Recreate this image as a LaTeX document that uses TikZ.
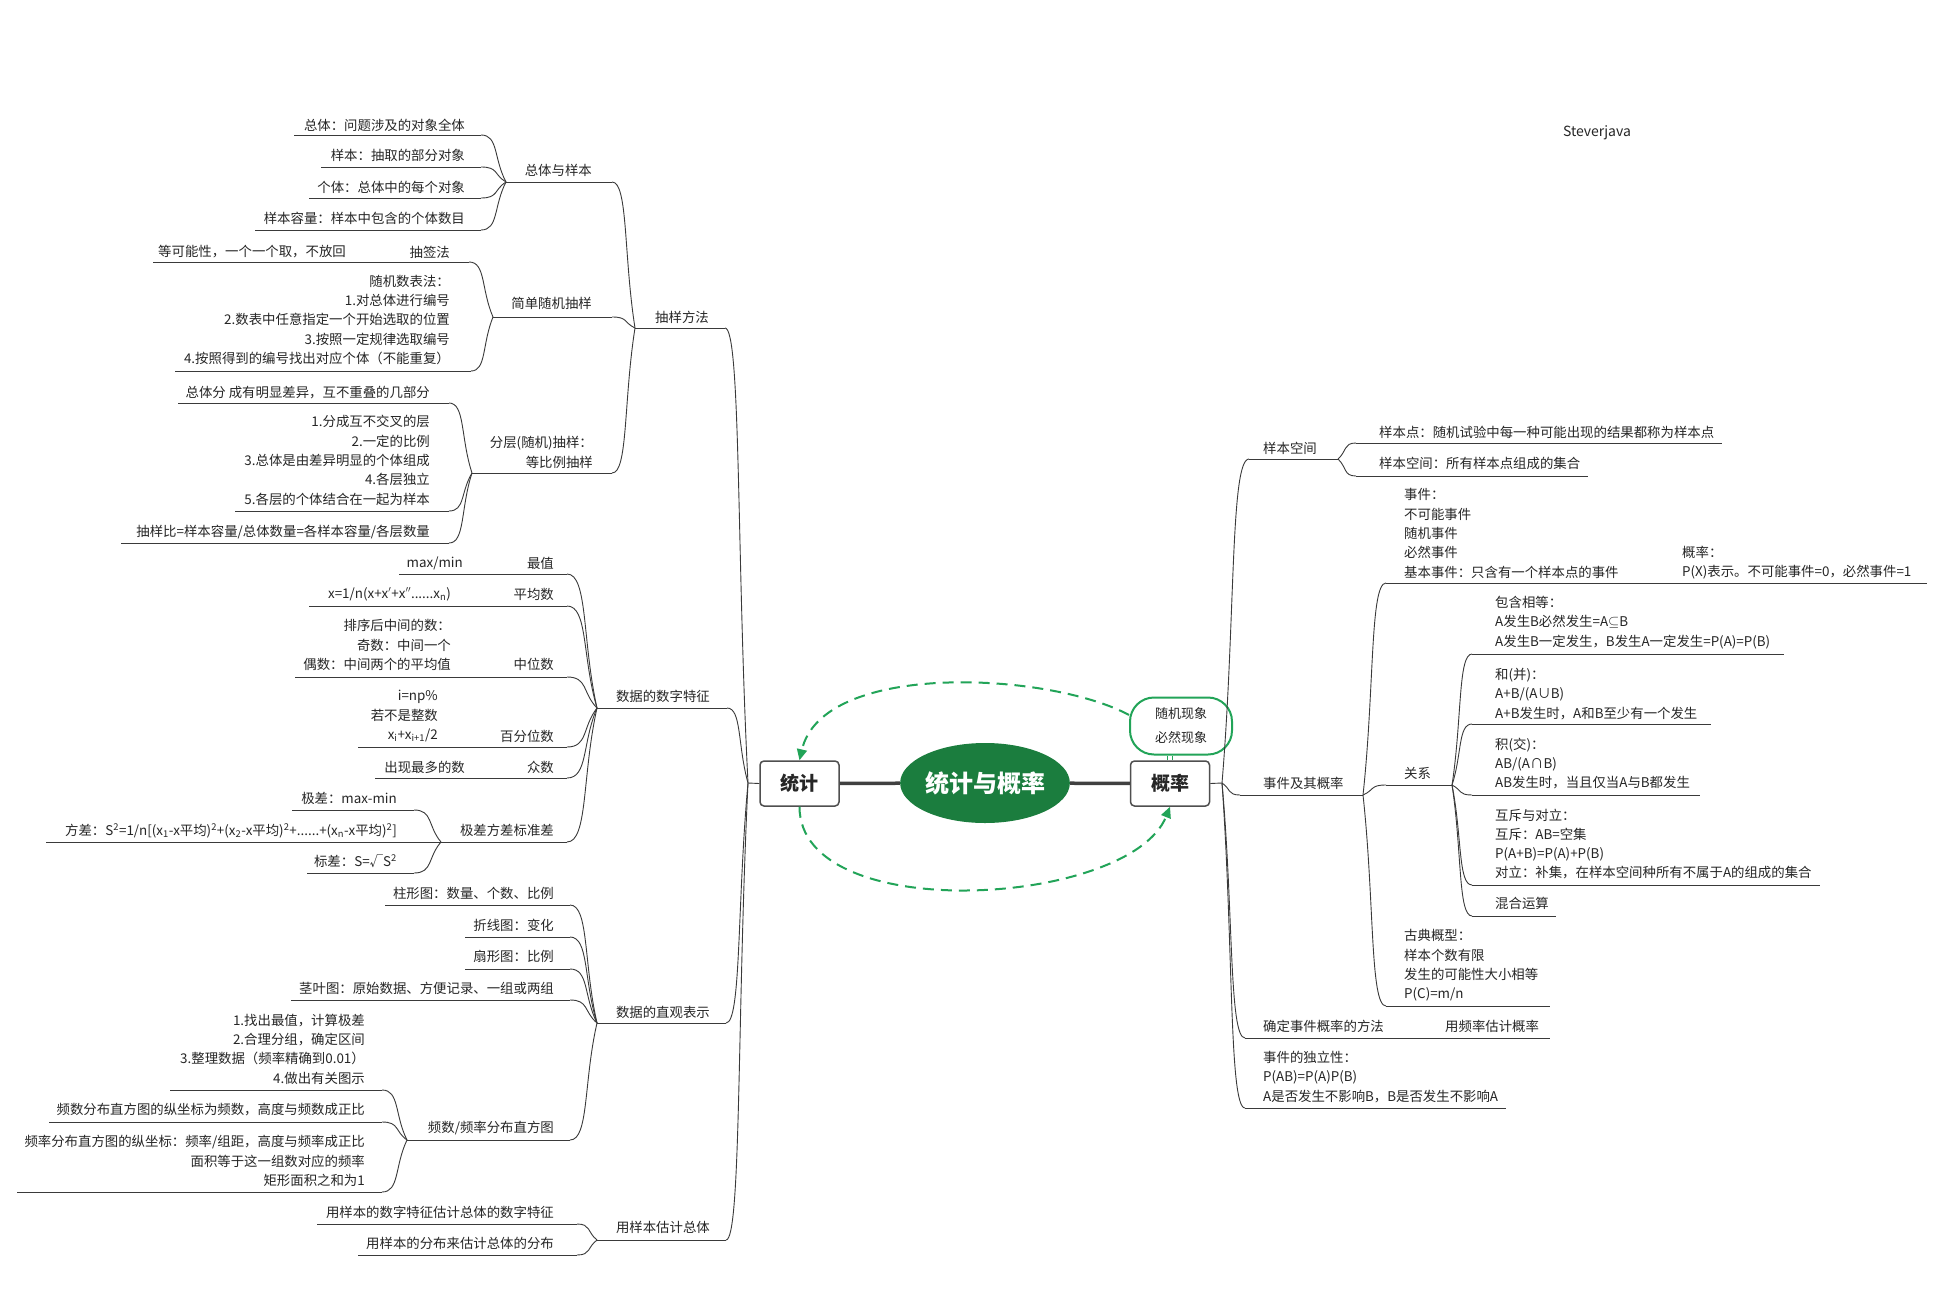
\documentclass[tikz,border=0pt]{standalone}
\usepackage{fontspec}
\setmainfont{Noto Sans CJK SC}
\usetikzlibrary{shapes.geometric,arrows.meta,calc}
\definecolor{fio}{HTML}{3A3A3A}
\definecolor{texto}{HTML}{262626}
\definecolor{borda}{HTML}{4F4F4F}
\definecolor{tronco}{HTML}{404040}
\definecolor{verdeescuro}{HTML}{1B7D3E}
\definecolor{verdeclaro}{HTML}{22A458}
\tikzset{
  txt/.style={font=\fontsize{13.4}{19.3}\selectfont, text=texto, inner sep=0pt},
  esq/.style={txt, anchor=east, align=right},
  dir/.style={txt, anchor=west, align=left},
  linha/.style={draw=fio, line width=0.9pt},
  ramo/.style={to path={.. controls ($(\tikztostart)!0.7!(\tikztotarget|-\tikztostart)$) and ($(\tikztotarget)!0.5!(\tikztostart)$) .. (\tikztotarget)}},
  caixa/.style={draw=borda, line width=1.5pt, rounded corners=4pt, fill=white, minimum width=79pt, minimum height=45pt, inner sep=0pt, text=texto, font=\fontsize{19}{22}\selectfont\bfseries},
  centro/.style={ellipse, fill=verdeescuro, minimum width=162pt, minimum height=80pt, inner sep=0pt, text=white, font=\fontsize{24}{28}\selectfont\bfseries},
  balao/.style={draw=verdeclaro, line width=2pt, fill=white, rounded corners=24pt, minimum width=102pt, minimum height=57pt, inner sep=0pt, align=center, text=texto, font=\fontsize{13}{24}\selectfont},
  grosso/.style={draw=tronco, line width=3.5pt},
  seta/.style={draw=verdeclaro, line width=2pt, dash pattern=on 11pt off 7pt, -{Triangle[length=11pt,width=10pt]}},
}
\begin{document}
\begin{tikzpicture}[x=1pt,y=-1pt]
% Fundo
\path[use as bounding box, fill=white] (0,0) rectangle (1950,1300);
\node[txt, font=\fontsize{14}{16}\selectfont] (autor) at (1597,133) {Steverjava};

% Centro
\node[centro] (tema) at (985,783) {统计与概率};
\node[caixa] (est) at (799.5,783.5) {统计};
\node[caixa] (prob) at (1170,783.5) {概率};
\draw[grosso] (est) -- (tema);
\draw[grosso] (tema) -- (prob);
\node[balao] (fen) at (1181,726) {随机现象\\必然现象};
\draw[draw=verdeclaro, line width=1.4pt, double=white, double distance=3.5pt] (prob.north) -- (prob.north|-fen.south);
\draw[seta] (fen.168) .. controls +(-80,-43) and +(23,-100) .. (est.north);
\draw[seta] (est.south) .. controls +(0,120) and +(-40,100) .. (prob.south);

% Ramo esquerdo - 抽样方法
\coordinate (J0) at (748,783);
\draw[linha] (est.west) -- (J0);
\coordinate (ja1) at (635,328);
\node[esq] (a1) at (709,317) {抽样方法};
\draw[linha] (ja1) -- (725,328) coordinate (a1r);
\draw[linha] (a1r) to[ramo] (J0);

\coordinate (jb1) at (506,182);
\node[esq] (b1) at (592,170) {总体与样本};
\draw[linha] (jb1) -- (612,182) coordinate (b1r);
\draw[linha] (b1r) to[ramo] (ja1);
\node[esq] (c1) at (465,125) {总体：问题涉及的对象全体};
\draw[linha] (294,135) -- (481,135) coordinate (c1r);
\draw[linha] (c1r) to[ramo] (jb1);
\node[esq] (c2) at (465,155) {样本：抽取的部分对象};
\draw[linha] (321,167) -- (481,167) coordinate (c2r);
\draw[linha] (c2r) to[ramo] (jb1);
\node[esq] (c3) at (465,187) {个体：总体中的每个对象};
\draw[linha] (309,198) -- (481,198) coordinate (c3r);
\draw[linha] (c3r) to[ramo] (jb1);
\node[esq] (c4) at (465,218) {样本容量：样本中包含的个体数目};
\draw[linha] (255,230) -- (481,230) coordinate (c4r);
\draw[linha] (c4r) to[ramo] (jb1);

\coordinate (jb2) at (493,317);
\node[esq] (b2) at (592,303) {简单随机抽样};
\draw[linha] (jb2) -- (612,317) coordinate (b2r);
\draw[linha] (b2r) to[ramo] (ja1);
\node[esq] (c5) at (450,252) {抽签法};
\node[esq] (d1) at (346,252) {等可能性，一个一个取，不放回};
\draw[linha] (153,262) -- (400,262) coordinate (d1r);
\draw[linha] (d1r) -- (469,262) coordinate (c5r);
\draw[linha] (c5r) to[ramo] (jb2);
\node[esq] (c6) at (450,320) {随机数表法：\\1.对总体进行编号\\2.数表中任意指定一个开始选取的位置\\3.按照一定规律选取编号\\4.按照得到的编号找出对应个体（不能重复）};
\draw[linha] (175,371) -- (471,371) coordinate (c6r);
\draw[linha] (c6r) to[ramo] (jb2);

\coordinate (jb3) at (472,473);
\node[esq] (b3) at (593,452.5) {分层(随机)抽样：\\等比例抽样};
\draw[linha] (jb3) -- (612,473) coordinate (b3r);
\draw[linha] (b3r) to[ramo] (ja1);
\node[esq] (c7) at (430,393) {总体分 成有明显差异，互不重叠的几部分};
\draw[linha] (178,403) -- (449,403) coordinate (c7r);
\draw[linha] (c7r) to[ramo] (jb3);
\node[esq] (c8) at (430,460.5) {1.分成互不交叉的层\\2.一定的比例\\3.总体是由差异明显的个体组成\\4.各层独立\\5.各层的个体结合在一起为样本};
\draw[linha] (235,511) -- (449,511) coordinate (c8r);
\draw[linha] (c8r) to[ramo] (jb3);
\node[esq] (c9) at (430,532) {抽样比=样本容量/总体数量=各样本容量/各层数量};
\draw[linha] (121,543) -- (449,543) coordinate (c9r);
\draw[linha] (c9r) to[ramo] (jb3);

% Ramo esquerdo - 数据的数字特征
\coordinate (ja2) at (597,708);
\node[esq] (a2) at (710,696) {数据的数字特征};
\draw[linha] (ja2) -- (727,708) coordinate (a2r);
\draw[linha] (a2r) to[ramo] (J0);
\node[esq] (e1) at (554,563) {最值};
\node[esq] (f1) at (463,563) {max/min};
\draw[linha] (399,574) -- (495,574) coordinate (f1r);
\draw[linha] (f1r) -- (567,574) coordinate (e1r);
\draw[linha] (e1r) to[ramo] (ja2);
\node[esq] (e2) at (554,594) {平均数};
\node[esq] (f2) at (451,594) {x=1/n(x+x$'$+x$''$......x\textsubscript{n})};
\draw[linha] (309,606) -- (480,606) coordinate (f2r);
\draw[linha] (f2r) -- (567,606) coordinate (e2r);
\draw[linha] (e2r) to[ramo] (ja2);
\node[esq] (e3) at (554,664) {中位数};
\node[esq] (f3) at (451,645) {排序后中间的数：\\奇数：中间一个\\偶数：中间两个的平均值};
\draw[linha] (295,677) -- (480,677) coordinate (f3r);
\draw[linha] (f3r) -- (567,677) coordinate (e3r);
\draw[linha] (e3r) to[ramo] (ja2);
\node[esq] (e4) at (554,736) {百分位数};
\node[esq] (f4) at (438,716) {i=np\%\\若不是整数\\x\textsubscript{i}+x\textsubscript{i+1}/2};
\draw[linha] (358,747) -- (470,747) coordinate (f4r);
\draw[linha] (f4r) -- (567,747) coordinate (e4r);
\draw[linha] (e4r) to[ramo] (ja2);
\node[esq] (e5) at (554,767) {众数};
\node[esq] (f5) at (465,767) {出现最多的数};
\draw[linha] (375,778) -- (490,778) coordinate (f5r);
\draw[linha] (f5r) -- (567,778) coordinate (e5r);
\draw[linha] (e5r) to[ramo] (ja2);
\coordinate (je6) at (441,842);
\node[esq] (e6) at (554,830) {极差方差标准差};
\draw[linha] (je6) -- (567,842) coordinate (e6r);
\draw[linha] (e6r) to[ramo] (ja2);
\node[esq] (f6) at (397,798) {极差：max-min};
\draw[linha] (292,810) -- (414,810) coordinate (f6r);
\draw[linha] (f6r) to[ramo] (je6);
\node[esq] (f7) at (397,831) {方差：S\textsuperscript{2}=1/n[(x\textsubscript{1}-x平均)\textsuperscript{2}+(x\textsubscript{2}-x平均)\textsuperscript{2}+......+(x\textsubscript{n}-x平均)\textsuperscript{2}]};
\draw[linha] (46,842) coordinate (f7l) -- (je6);
\node[esq] (f8) at (397,861) {标差：S=√S\textsuperscript{2}};
\draw[linha] (307,873) -- (414,873) coordinate (f8r);
\draw[linha] (f8r) to[ramo] (je6);

% Ramo esquerdo - 数据的直观表示
\coordinate (ja3) at (597,1023);
\node[esq] (a3) at (710,1012) {数据的直观表示};
\draw[linha] (ja3) -- (726,1023) coordinate (a3r);
\draw[linha] (a3r) to[ramo] (J0);
\node[esq] (g1) at (554,893) {柱形图：数量、个数、比例};
\draw[linha] (385,905) -- (570,905) coordinate (g1r);
\draw[linha] (g1r) to[ramo] (ja3);
\node[esq] (g2) at (554,925) {折线图：变化};
\draw[linha] (465,937) -- (570,937) coordinate (g2r);
\draw[linha] (g2r) to[ramo] (ja3);
\node[esq] (g3) at (554,956) {扇形图：比例};
\draw[linha] (465,969) -- (570,969) coordinate (g3r);
\draw[linha] (g3r) to[ramo] (ja3);
\node[esq] (g4) at (554,988) {茎叶图：原始数据、方便记录、一组或两组};
\draw[linha] (291,1000) -- (570,1000) coordinate (g4r);
\draw[linha] (g4r) to[ramo] (ja3);
\coordinate (jg5) at (407,1140);
\node[esq] (g5) at (554,1128) {频数/频率分布直方图};
\draw[linha] (jg5) -- (570,1140) coordinate (g5r);
\draw[linha] (g5r) to[ramo] (ja3);
\node[esq] (h1) at (365,1049) {1.找出最值，计算极差\\2.合理分组，确定区间\\3.整理数据（频率精确到0.01）\\4.做出有关图示};
\draw[linha] (170,1090) -- (382,1090) coordinate (h1r);
\draw[linha] (h1r) to[ramo] (jg5);
\node[esq] (h2) at (365,1110) {频数分布直方图的纵坐标为频数，高度与频数成正比};
\draw[linha] (49,1122) -- (382,1122) coordinate (h2r);
\draw[linha] (h2r) to[ramo] (jg5);
\node[esq] (h3) at (365,1161) {频率分布直方图的纵坐标：频率/组距，高度与频率成正比\\面积等于这一组数对应的频率\\矩形面积之和为1};
\draw[linha] (17,1192) -- (382,1192) coordinate (h3r);
\draw[linha] (h3r) to[ramo] (jg5);

% Ramo esquerdo - 用样本估计总体
\coordinate (ja4) at (597,1240);
\node[esq] (a4) at (710,1227) {用样本估计总体};
\draw[linha] (ja4) -- (726,1240) coordinate (a4r);
\draw[linha] (a4r) to[ramo] (J0);
\node[esq] (g6) at (554,1212) {用样本的数字特征估计总体的数字特征};
\draw[linha] (317,1224) -- (577,1224) coordinate (g6r);
\draw[linha] (g6r) to[ramo] (ja4);
\node[esq] (g7) at (554,1243) {用样本的分布来估计总体的分布};
\draw[linha] (358,1255) -- (577,1255) coordinate (g7r);
\draw[linha] (g7r) to[ramo] (ja4);

% Ramo direito - 概率
\coordinate (J1) at (1222,783);
\draw[linha] (prob.east) -- (J1);
\coordinate (jr1) at (1338,459);
\node[dir] (r1) at (1263,448) {样本空间};
\draw[linha] (1249,459) coordinate (r1l) -- (jr1);
\draw[linha] (r1l) to[ramo] (J1);
\node[dir] (s1) at (1379,432) {样本点：随机试验中每一种可能出现的结果都称为样本点};
\draw[linha] (1356,443) coordinate (s1l) -- (1722,443);
\draw[linha] (s1l) to[ramo] (jr1);
\node[dir] (s2) at (1379,463) {样本空间：所有样本点组成的集合};
\draw[linha] (1356,476) coordinate (s2l) -- (1588,476);
\draw[linha] (s2l) to[ramo] (jr1);

\coordinate (jr2) at (1363,795);
\node[dir] (r2) at (1263,783) {事件及其概率};
\draw[linha] (1240,795) coordinate (r2l) -- (jr2);
\draw[linha] (r2l) to[ramo] (J1);
\node[dir] (s3) at (1404,533.5) {事件：\\不可能事件\\随机事件\\必然事件\\基本事件：只含有一个样本点的事件};
\draw[linha] (1386,583) coordinate (s3l) -- (1660,583) coordinate (s3r);
\draw[linha] (s3l) to[ramo] (jr2);
\node[dir] (t1) at (1682,562.5) {概率：\\P(X)表示。不可能事件=0，必然事件=1};
\draw[linha] (s3r) -- (1927,583);

\coordinate (jr4) at (1452,785);
\node[dir] (s4) at (1404,773) {关系};
\draw[linha] (1386,785) coordinate (s4l) -- (jr4);
\draw[linha] (s4l) to[ramo] (jr2);
\node[dir] (u1) at (1495,622.5) {包含相等：\\A发生B必然发生=A$\subseteq$B\\A发生B一定发生，B发生A一定发生=P(A)=P(B)};
\draw[linha] (1472,654) coordinate (u1l) -- (1784,654);
\draw[linha] (u1l) to[ramo] (jr4);
\node[dir] (u2) at (1495,694) {和(并)：\\A+B/(A∪B)\\A+B发生时，A和B至少有一个发生};
\draw[linha] (1472,724) coordinate (u2l) -- (1711,724);
\draw[linha] (u2l) to[ramo] (jr4);
\node[dir] (u3) at (1495,763.5) {积(交)：\\AB/(A∩B)\\AB发生时，当且仅当A与B都发生};
\draw[linha] (1472,795) coordinate (u3l) -- (1700,795);
\draw[linha] (u3l) to[ramo] (jr4);
\node[dir] (u4) at (1495,844) {互斥与对立：\\互斥：AB=空集\\P(A+B)=P(A)+P(B)\\对立：补集，在样本空间种所有不属于A的组成的集合};
\draw[linha] (1472,885) coordinate (u4l) -- (1820,885);
\draw[linha] (u4l) to[ramo] (jr4);
\node[dir] (u5) at (1495,903) {混合运算};
\draw[linha] (1472,916) coordinate (u5l) -- (1556,916);
\draw[linha] (u5l) to[ramo] (jr4);

\node[dir] (s5) at (1404,965.5) {古典概型：\\样本个数有限\\发生的可能性大小相等\\P(C)=m/n};
\draw[linha] (1386,1006) coordinate (s5l) -- (1550,1006);
\draw[linha] (s5l) to[ramo] (jr2);

\node[dir] (r3) at (1263,1026) {确定事件概率的方法};
\node[dir] (s6) at (1445,1026) {用频率估计概率};
\draw[linha] (1245,1038) coordinate (r3l) -- (1430,1038) coordinate (s6l);
\draw[linha] (s6l) -- (1550,1038);
\draw[linha] (r3l) to[ramo] (J1);

\node[dir] (r4) at (1263,1077) {事件的独立性：\\P(AB)=P(A)P(B)\\A是否发生不影响B，B是否发生不影响A};
\draw[linha] (1245,1108) coordinate (r4l) -- (1506,1108);
\draw[linha] (r4l) to[ramo] (J1);
\end{tikzpicture}
\end{document}
